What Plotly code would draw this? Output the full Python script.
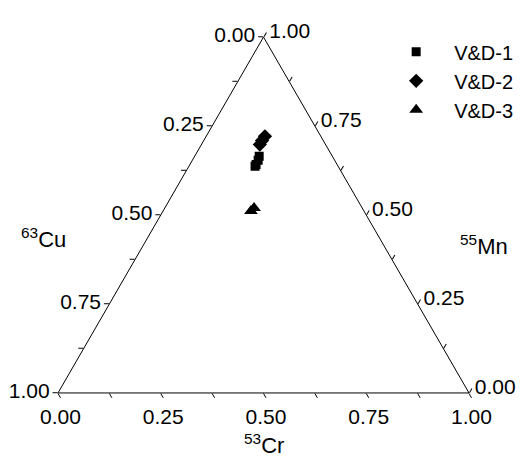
import plotly.graph_objects as go

# Ternary data: Mn (top vertex), Cu (bottom-left), Cr (bottom-right)
series_names = ["V&D-1", "V&D-2", "V&D-3"]
vd1_mn = [0.665, 0.654, 0.642, 0.637]
vd1_cu = [0.178, 0.186, 0.197, 0.202]
vd1_cr = [0.157, 0.160, 0.161, 0.161]

vd2_mn = [0.721, 0.709, 0.698]
vd2_cu = [0.136, 0.149, 0.160]
vd2_cr = [0.143, 0.142, 0.142]

vd3_mn = [0.511, 0.520]
vd3_cu = [0.275, 0.263]
vd3_cr = [0.214, 0.217]

tick_vals = [0, 0.125, 0.25, 0.375, 0.5, 0.625, 0.75, 0.875, 1.0]
major_labels = {0: "1.00", 0.25: "0.75", 0.5: "0.50", 0.75: "0.25", 1.0: "0.00"}
tick_text = [major_labels.get(v, "") for v in tick_vals]

FONT = "Liberation Sans, Arial, sans-serif"
FS = 21

fig = go.Figure()
symbols = ["square", "diamond", "triangle-up"]
sizes = [9, 11, 12]
data = [(vd1_mn, vd1_cu, vd1_cr), (vd2_mn, vd2_cu, vd2_cr), (vd3_mn, vd3_cu, vd3_cr)]
for name, sym, sz, (mn, cu, cr) in zip(series_names, symbols, sizes, data):
    fig.add_trace(go.Scatterternary(
        a=mn, b=cu, c=cr, mode="markers", name=name,
        marker=dict(symbol=sym, size=sz, color="black", line=dict(width=0)),
    ))

axis_common = dict(
    tickmode="array", tickvals=tick_vals, ticktext=tick_text,
    showgrid=False, linecolor="black", linewidth=1,
    ticks="outside", ticklen=5, tickcolor="black", tickwidth=1,
    tickfont=dict(family=FONT, size=FS, color="black"),
    title=dict(text=""), min=0,
)

fig.update_layout(
    width=524, height=457,
    paper_bgcolor="white", plot_bgcolor="white",
    margin=dict(l=50, r=63, t=29, b=72),
    font=dict(family=FONT, size=FS, color="black"),
    ternary=dict(
        sum=1, bgcolor="white",
        domain=dict(x=[0, 1], y=[0, 1]),
        aaxis=axis_common, baxis=axis_common, caxis=axis_common,
    ),
    showlegend=True,
    legend=dict(x=0.779, y=1.013, xanchor="left", yanchor="top",
                bgcolor="rgba(0,0,0,0)", font=dict(family=FONT, size=20, color="black"),
                itemwidth=66, tracegroupgap=0),
    annotations=[
        dict(text="<sup>53</sup>Cr", x=0.5, y=-0.143, xref="paper", yref="paper",
             showarrow=False, xanchor="center", yanchor="middle",
             font=dict(family=FONT, size=22, color="black")),
        dict(text="<sup>63</sup>Cu", x=-0.035, y=0.435, xref="paper", yref="paper",
             showarrow=False, xanchor="center", yanchor="middle",
             font=dict(family=FONT, size=22, color="black")),
        dict(text="<sup>55</sup>Mn", x=1.037, y=0.416, xref="paper", yref="paper",
             showarrow=False, xanchor="center", yanchor="middle",
             font=dict(family=FONT, size=22, color="black")),
    ],
)

fig.write_html("out.html")
